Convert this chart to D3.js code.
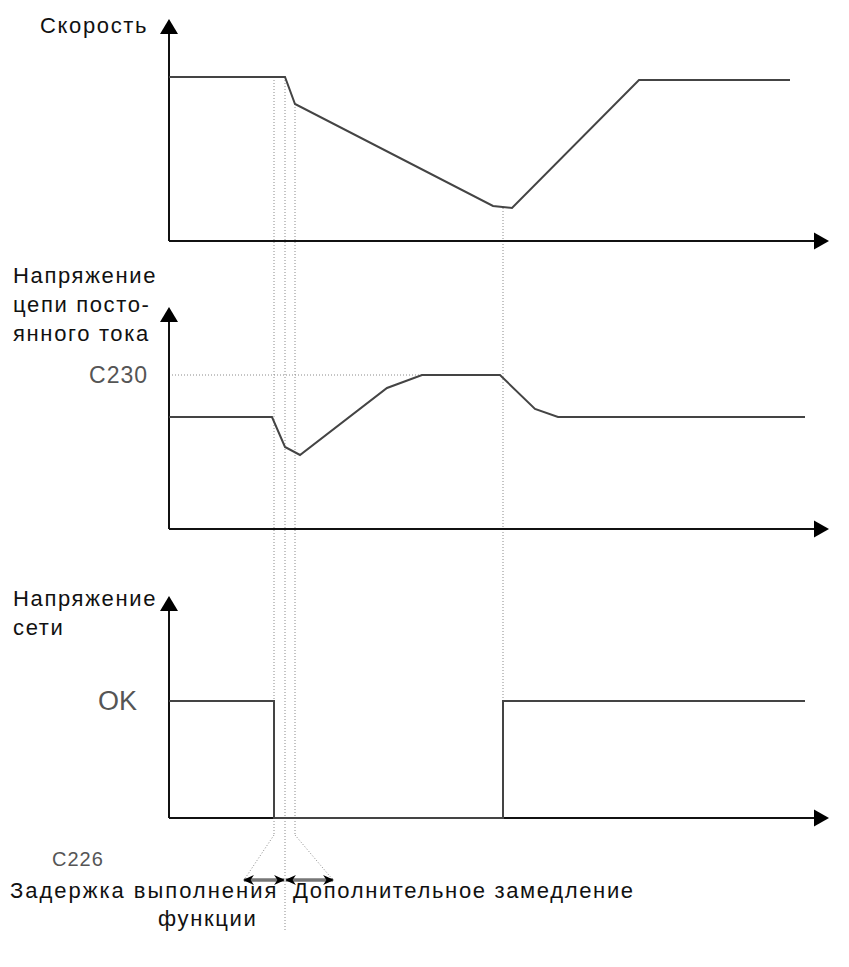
<!DOCTYPE html>
<html><head><meta charset="utf-8">
<script src="https://cdn.jsdelivr.net/npm/d3@7"></script>
<style>
html,body{margin:0;padding:0;background:#fff;}
svg{display:block;}
.lbl{font-family:"Liberation Sans",Arial,sans-serif;font-size:22px;fill:#111;letter-spacing:1.65px;}
.lvl{font-family:"Liberation Sans",Arial,sans-serif;fill:#555;}
</style></head>
<body>
<svg id="c" width="849" height="967"></svg>
<script>
// ---- data (time in arbitrary units, values in % of panel height) ----
const speedT  = [0, 11.6, 12.6, 32.4, 34.3, 47, 62.1];
const speedV  = [82, 82, 68.5, 17.5, 16.5, 80.5, 80.5];
const dcT     = [0, 10.3, 11.6, 13.1, 21.8, 25.3, 33.1, 36.6, 38.9, 63.6];
const dcV     = [56, 56, 41, 37, 70.5, 77, 77, 60, 56, 56];
const mainsT  = [0, 10.5, 10.5, 33.4, 33.4, 63.6];
const mainsV  = [58.5, 58.5, 0, 0, 58.5, 58.5];
const c230Level = 77;
const okLevel = 58.5;
const eventT = [10.5, 11.6, 12.6, 33.4];    // vertical dotted markers
const delayRange = [7.5, 11.5];             // C226 delay arrow
const extraRange = [11.7, 16.4];            // additional deceleration arrow
const panelLabels = [["Скорость"], ["Напряжение","цепи посто-","янного тока"], ["Напряжение","сети"]];
const levelLabels = ["C230", "OK", "C226"];
const bottomLabels = ["Задержка выполнения", "функции", "Дополнительное замедление"];

const svg = d3.select("#c");
const x = d3.scaleLinear().domain([0, 66]).range([169, 829]);
const bases = [241, 529, 818];
const ys = bases.map(b => d3.scaleLinear().domain([0, 100]).range([b, b - 200]));
const yTop = 111;

const axisColor = "#111", lineColor = "#444", dotColor = "#8a8a8a";

// dotted guides (drawn first)
const dot = (x1,y1,x2,y2) => svg.append("line").attr("x1",x1).attr("y1",y1).attr("x2",x2).attr("y2",y2)
  .attr("stroke",dotColor).attr("stroke-width",1).attr("stroke-dasharray","1,2");
dot(x(eventT[0]), ys[0](speedV[0]), x(eventT[0]), 835);
dot(x(eventT[1]), ys[0](speedV[0]), x(eventT[1]), 932);
dot(x(eventT[2]), ys[0](speedV[2]), x(eventT[2]), 835);
dot(x(eventT[3]), ys[0](speedV[4]), x(eventT[3]), ys[2](okLevel));
dot(x(0), ys[1](c230Level), x(33.1), ys[1](c230Level));
// funnel
dot(x(eventT[0]), 835, x(delayRange[0]), 880);
dot(x(eventT[2]), 835, x(extraRange[1]), 880);

// axes
bases.forEach((b, i) => {
  const y = ys[i];
  svg.append("line").attr("x1", x(0)).attr("x2", x(0)).attr("y1", b).attr("y2", y(yTop) + 10)
    .attr("stroke", axisColor).attr("stroke-width", 2);
  svg.append("path").attr("d", `M${x(0)},${y(yTop)} L${x(0)-9},${y(yTop)+15} L${x(0)+9},${y(yTop)+15} Z`).attr("fill", "#000");
  svg.append("line").attr("x1", x(0)).attr("x2", x(66) - 12).attr("y1", b).attr("y2", b)
    .attr("stroke", axisColor).attr("stroke-width", 2);
  svg.append("path").attr("d", `M${x(66)},${b} L${x(66)-15},${b-8.5} L${x(66)-15},${b+8.5} Z`).attr("fill", "#000");
});

// series lines
const draw = (T, V, y) => {
  const line = d3.line().x(d => x(d[0])).y(d => y(d[1]));
  svg.append("path").attr("d", line(d3.zip(T, V))).attr("fill", "none")
    .attr("stroke", lineColor).attr("stroke-width", 2).attr("stroke-linejoin", "miter");
};
draw(speedT, speedV, ys[0]);
draw(dcT, dcV, ys[1]);
draw(mainsT, mainsV, ys[2]);

// panel labels
const lbl = (txt, xx, yy) => svg.append("text").attr("class", "lbl").attr("x", xx).attr("y", yy).text(txt);
lbl(panelLabels[0][0], 40, 33);
panelLabels[1].forEach((t, i) => lbl(t, 13, 283 + i * 29));
panelLabels[2].forEach((t, i) => lbl(t, 13, 606 + i * 29));

// level labels via axes
const ax1 = d3.axisLeft(ys[1]).tickValues([c230Level]).tickFormat(() => levelLabels[0]).tickSize(0).tickPadding(21);
const g1 = svg.append("g").attr("transform", `translate(${x(0)},0)`).call(ax1);
g1.select(".domain").remove();
g1.selectAll("text").attr("class", "lvl").attr("font-size", 23).attr("letter-spacing", 1).attr("font-family", null);
const ax2 = d3.axisLeft(ys[2]).tickValues([okLevel]).tickFormat(() => levelLabels[1]).tickSize(0).tickPadding(32);
const g2 = svg.append("g").attr("transform", `translate(${x(0)},0)`).call(ax2);
g2.select(".domain").remove();
g2.selectAll("text").attr("class", "lvl").attr("font-size", 27).attr("font-family", null);

// double arrows
const defs = svg.append("defs");
["s","e"].forEach(k => {
  defs.append("marker").attr("id", "m" + k).attr("viewBox", "0 0 10 10").attr("refX", 9).attr("refY", 5)
    .attr("markerWidth", 11).attr("markerHeight", 11).attr("markerUnits", "userSpaceOnUse").attr("orient", "auto-start-reverse")
    .append("path").attr("d", "M0,0.5 L10,5 L0,9.5 L3,5 Z").attr("fill", "#000");
});
[delayRange, extraRange].forEach(r => {
  svg.append("line").attr("x1", x(r[0])).attr("x2", x(r[1])).attr("y1", 880).attr("y2", 880)
    .attr("stroke", "#777").attr("stroke-width", 3.5)
    .attr("marker-start", "url(#ms)").attr("marker-end", "url(#me)");
});

// bottom labels
svg.append("text").attr("class", "lvl").attr("font-size", 20).attr("letter-spacing", 1).attr("x", 52).attr("y", 866).text(levelLabels[2]);
lbl(bottomLabels[0], 10, 898).attr("textLength", 268).attr("lengthAdjust", "spacing");
lbl(bottomLabels[1], 158, 926);
lbl(bottomLabels[2], 293, 898);
</script>
</body></html>
